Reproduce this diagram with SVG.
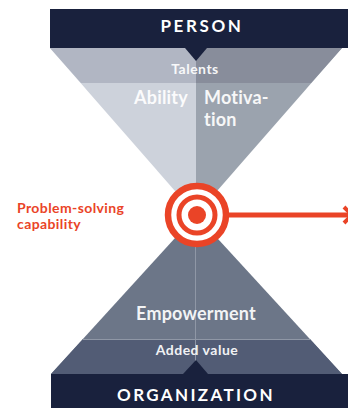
<svg xmlns="http://www.w3.org/2000/svg" width="348" height="408" viewBox="0 0 348 408">
<style>
text{font-family:"Lato","Open Sans","Liberation Sans",sans-serif;fill:#fff}
.m{text-anchor:middle}
.h{font-size:17px;font-weight:700;letter-spacing:2.600px}
.o{letter-spacing:2.350px}
.l{font-size:18px;font-weight:700;letter-spacing:.2px;opacity:.92}
.s{font-size:14px;font-weight:700;letter-spacing:.5px;opacity:.92}
.r{font-size:14px;font-weight:700;letter-spacing:.4px;fill:#ea4427}
.ring{fill:none;stroke:#ea4427}
</style>
<g id="top-funnel">
<polygon points="50,48 196,48 196,215" fill="#cdd2db"/>
<polygon points="196,48 342,48 196,215" fill="#9ba3ae"/>
<polygon points="50,48 196,48 196,83 81,83" fill="#b1b6c3"/>
<polygon points="196,48 342,48 311,83 196,83" fill="#888d9b"/>
</g>
<g id="bottom-funnel">
<polygon points="196,215 51,374 342,374" fill="#6c7688"/>
<polygon points="83,339 310,339 342,374 51,374" fill="#525c75"/>
<path d="M195.500 240V374M83 339.500H310" stroke="#8f97a6" stroke-width="1" fill="none"/>
</g>
<g id="person">
<rect x="50" y="9" width="298" height="39" fill="#19213d"/>
<polygon points="185,48 207,48 196,61" fill="#19213d"/>
<text class="h m" x="202" y="32">PERSON</text>
</g>
<g id="talents"><text class="s m" x="195" y="74">Talents</text></g>
<g id="ability"><text class="l m" x="161" y="104">Ability</text></g>
<g id="motivation"><text class="l" x="204" y="104">Motiva-</text><text class="l" x="204" y="126">tion</text></g>
<g id="empowerment"><text class="l m" x="196" y="320">Empowerment</text></g>
<g id="added-value"><text class="s m" x="197" y="355">Added value</text></g>
<g id="organization">
<polygon points="183,374 196,360 208,374" fill="#19213d"/>
<rect x="51" y="374" width="297" height="34" fill="#19213d"/>
<text class="h o m" x="196" y="401">ORGANIZATION</text>
</g>
<g id="problem-solving">
<text class="r" x="17" y="213">Problem-solving</text>
<text class="r" x="17" y="229">capability</text>
</g>
<g id="connectors">
<path d="M225 215H348" stroke="#ea4427" stroke-width="5" fill="none"/>
<path d="M344 207L352 215L344 223" stroke="#ea4427" stroke-width="4" fill="none"/>
</g>
<g id="target">
<circle cx="197" cy="215" r="29" fill="#fff"/>
<circle class="ring" cx="197" cy="215" r="29" stroke-width="6.500"/>
<circle class="ring" cx="197" cy="215" r="18" stroke-width="5"/>
<circle cx="197" cy="215" r="9" fill="#ea4427"/>
</g>
</svg>
